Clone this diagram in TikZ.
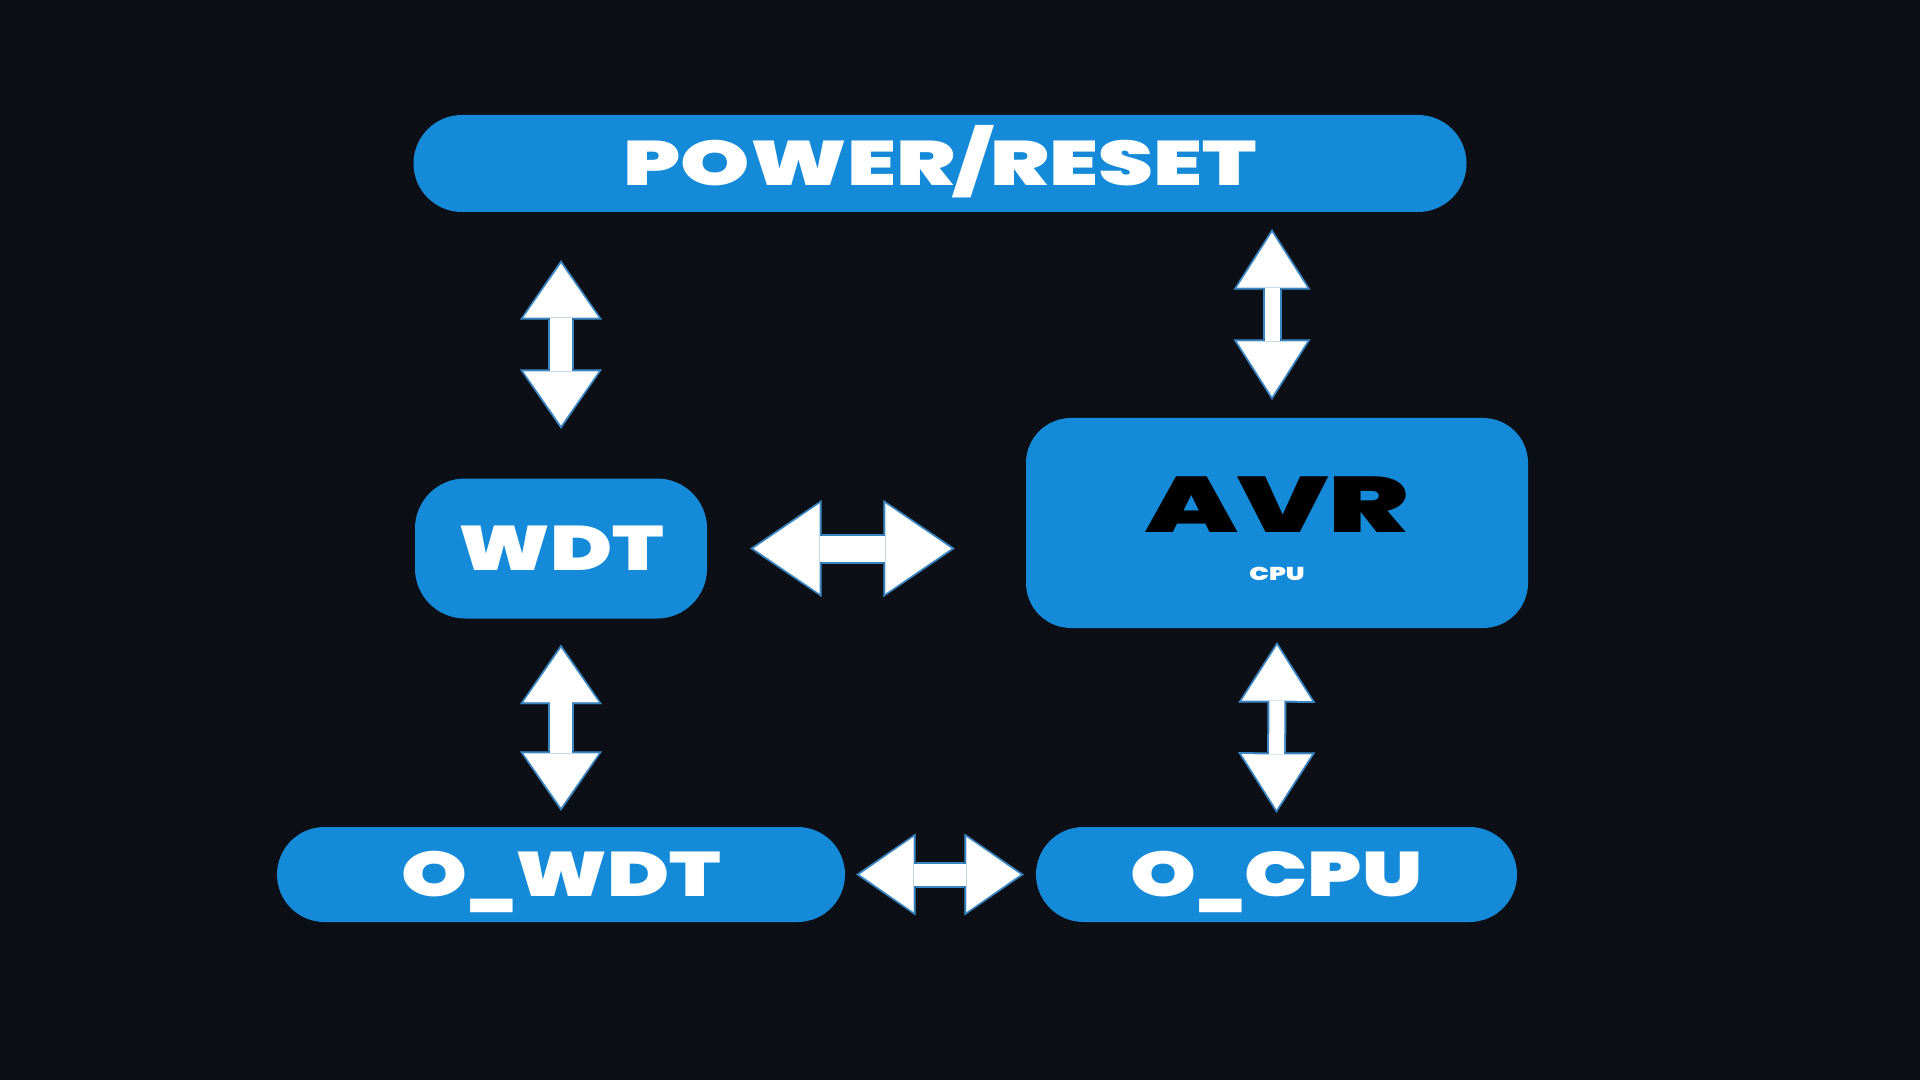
\documentclass[tikz,border=0pt]{standalone}
\usepackage{fontspec}
\usetikzlibrary{arrows.meta,calc}
\newfontfamily\heavy{Poppins Black}[FakeStretch=1.4]
\newfontfamily\heavynarrow{Poppins Black}[FakeStretch=1.33]
\newfontfamily\heavywide{Poppins Black}[FakeStretch=1.52]
\newfontfamily\heavyline{Poppins Black}[FakeStretch=1.0]
\newcommand\usc{{\heavyline\_}}
\definecolor{bg}{HTML}{0C0F16}
\definecolor{boxblue}{HTML}{148AD9}
\definecolor{edge}{HTML}{3A86C2}
\tikzset{
  blk/.style={fill=boxblue, inner sep=0pt, text=white, text depth=0pt},
  big/.style={font=\heavy\fontsize{17.9}{18}\selectfont, text height=0.44cm},
  bign/.style={font=\heavynarrow\fontsize{17.9}{18}\selectfont, text height=0.44cm},
  dbl/.style n args={6}{white, line width=#1,
    arrows={Triangle[length=#2,width=#3,line width=0.01pt,color=white]-Triangle[length=#2,width=#3,line width=0.01pt,color=white]},
    preaction={draw=edge, line width=#4, shorten <=-0.035cm, shorten >=-0.035cm,
      arrows={Triangle[length=#5,width=#6,line width=0.01pt,color=edge]-Triangle[length=#5,width=#6,line width=0.01pt,color=edge]}}},
  dblA/.style={dbl={0.22cm}{0.54cm}{0.75cm}{0.26cm}{0.595cm}{0.82cm}},
  dblB/.style={dbl={0.15cm}{0.55cm}{0.70cm}{0.19cm}{0.605cm}{0.77cm}},
  dblC/.style={dbl={0.26cm}{0.66cm}{0.90cm}{0.30cm}{0.715cm}{0.97cm}}
}
\begin{document}
\begin{tikzpicture}
\useasboundingbox (0,0) rectangle (19.2,-10.8);
\fill[bg] (0,0) rectangle (19.2,-10.8);
%blocks
\node[blk, big, minimum width=10.53cm, minimum height=0.97cm, rounded corners=0.485cm] (power) at (9.40,-1.635) {POWER/RESET};
\node[blk, bign, minimum width=2.92cm, minimum height=1.40cm, rounded corners=0.5cm] (wdt) at (5.61,-5.485) {WDT};
\node[blk, minimum width=5.02cm, minimum height=2.10cm, rounded corners=0.45cm] (avr) at (12.77,-5.23) {};
\node[blk, bign, minimum width=5.68cm, minimum height=0.95cm, rounded corners=0.475cm] (owdt) at (5.61,-8.745) {O\usc WDT};
\node[blk, bign, minimum width=4.81cm, minimum height=0.95cm, rounded corners=0.475cm] (ocpu) at (12.765,-8.745) {O\usc CPU};
%texts of the avr block
\node[inner sep=0pt, text=black, text depth=0pt, text height=0.55cm, font=\heavywide\fontsize{22.4}{24}\selectfont] (avrname) at ($(avr.center)+(0,0.175)$) {AVR};
\node[inner sep=0pt, text=white, text depth=0pt, text height=0.13cm, font=\heavy\fontsize{5.3}{6}\selectfont] (cpu) at ($(avr.center)+(0,-0.505)$) {CPU};
%double arrows
\draw[dblA] ($(power.south -| wdt.north)+(0,-0.51)$) -- ($(wdt.north)+(0,0.525)$);
\draw[dblB] ($(power.south -| avr.north)+(-0.05,-0.20)$) -- ($(avr.north)+(-0.05,0.21)$);
\draw[dblC] ($(wdt.east)+(0.46,0)$) -- ($(avr.west |- wdt.east)+(-0.74,0)$);
\draw[dblA] ($(wdt.south)+(0,-0.29)$) -- ($(owdt.north)+(0,0.19)$);
\draw[dblB] ($(avr.south)+(0,-0.17)$) -- ($(ocpu.north)+(0,0.17)$);
\draw[dblA] ($(owdt.east)+(0.14,0)$) -- ($(ocpu.west)+(-0.15,0)$);
\end{tikzpicture}
\end{document}
